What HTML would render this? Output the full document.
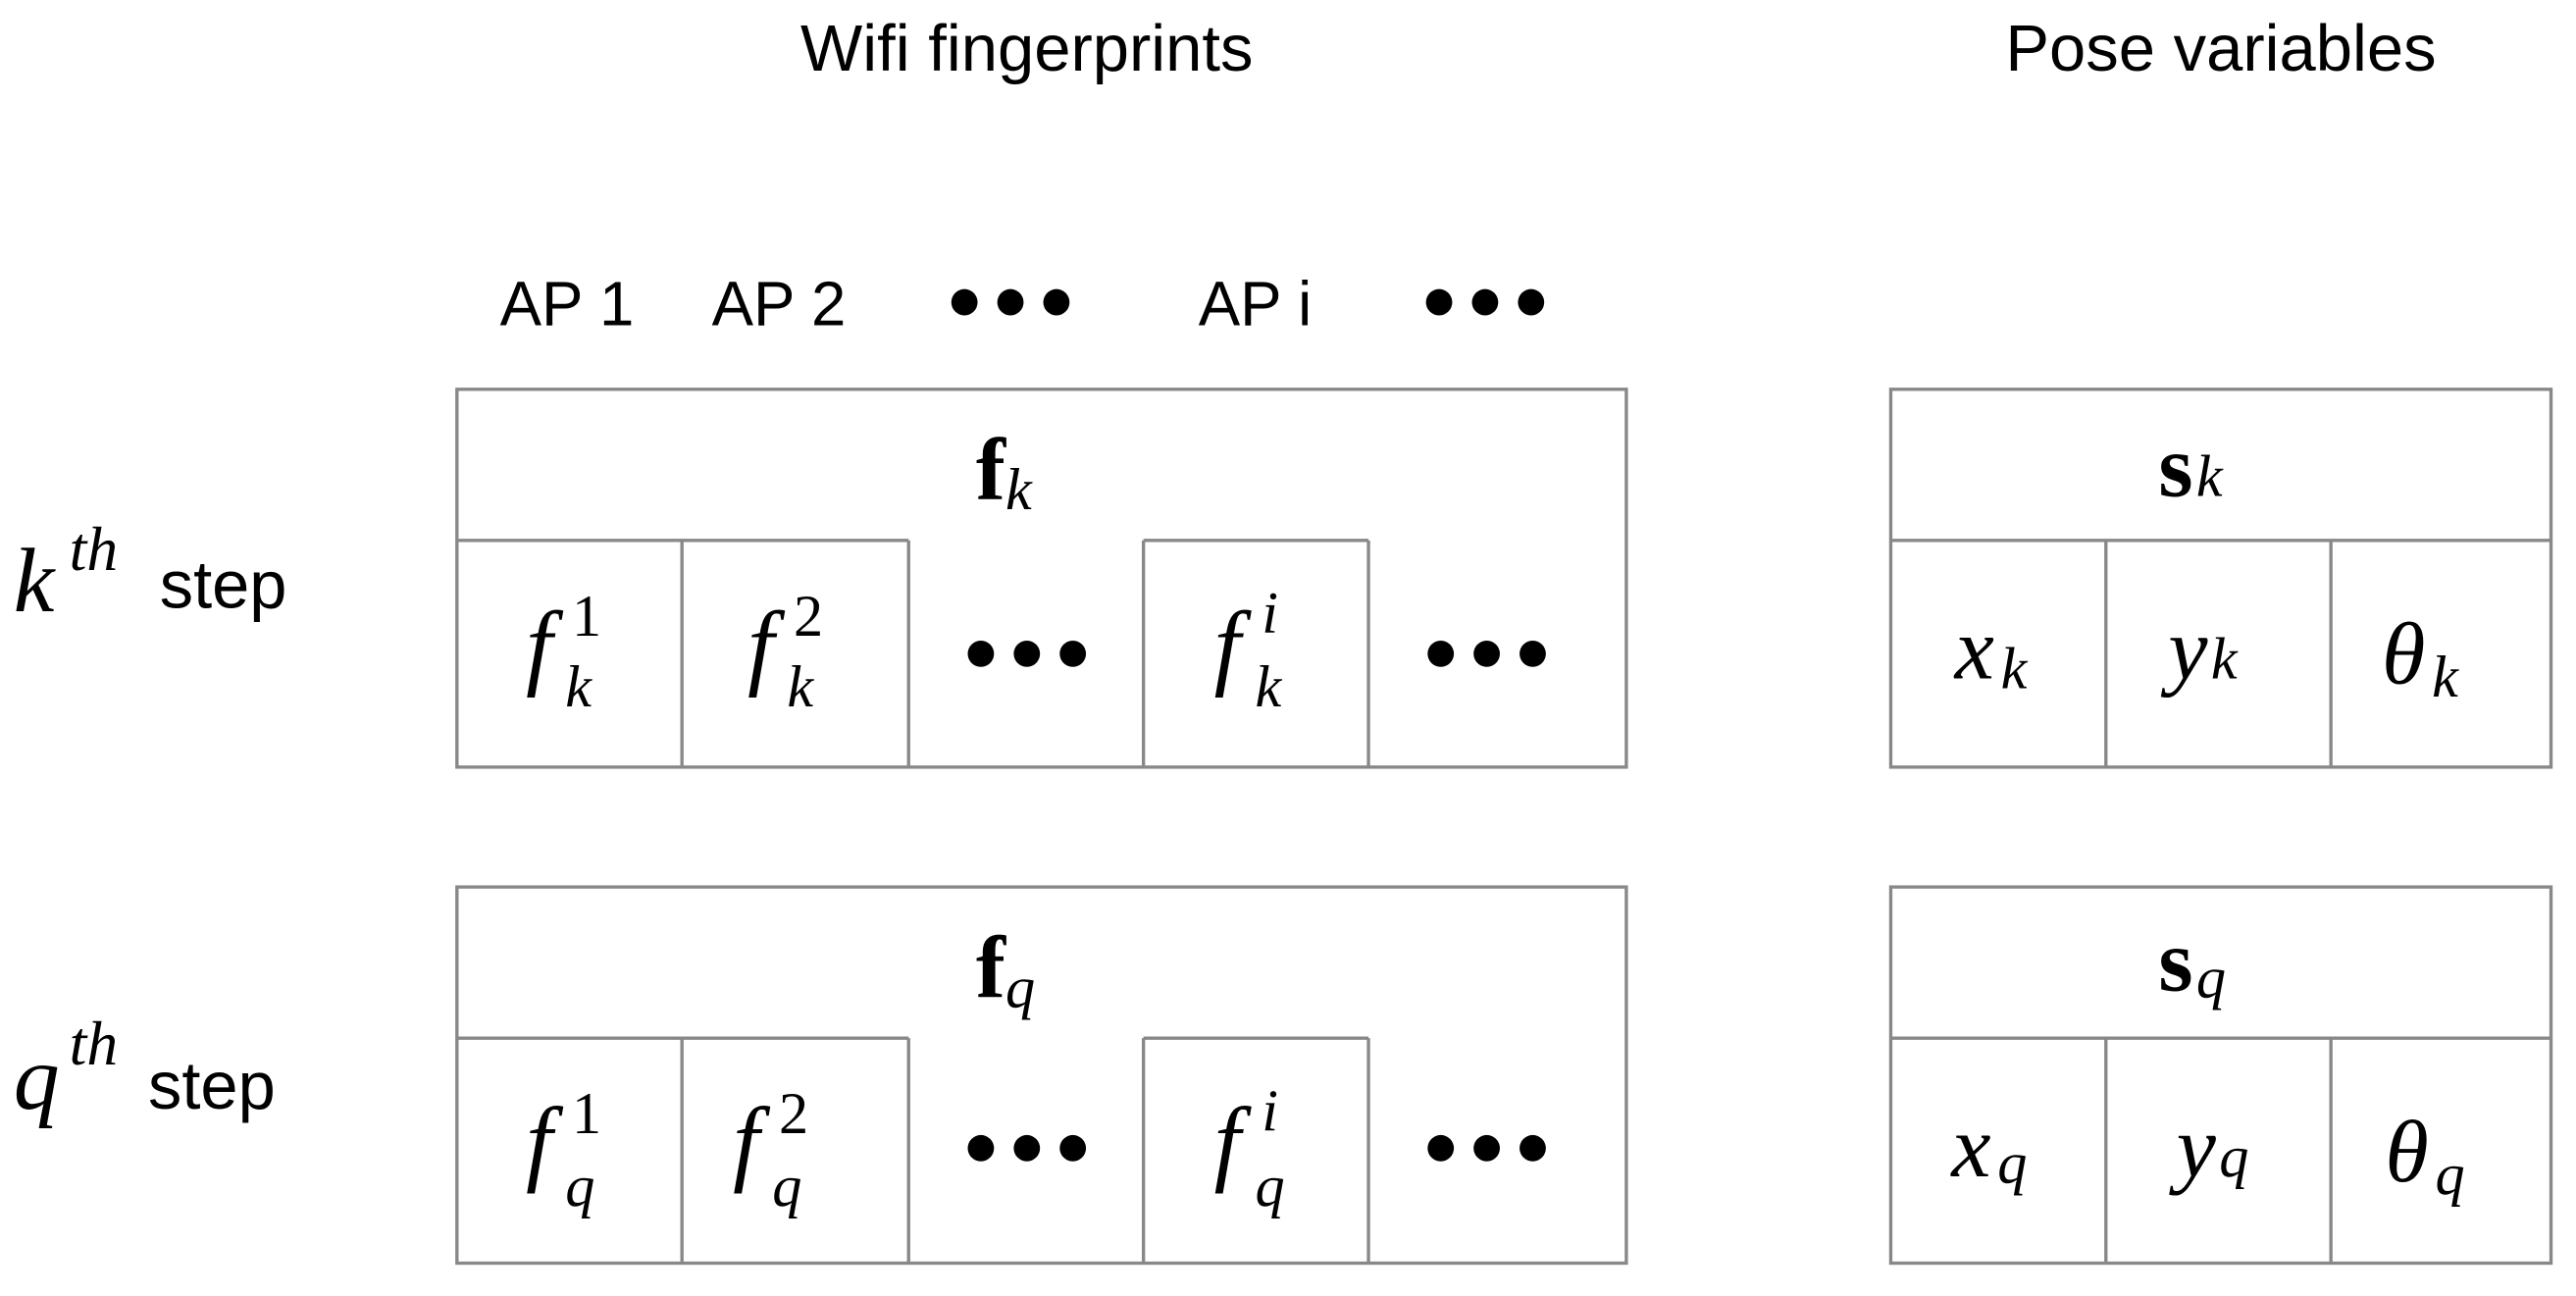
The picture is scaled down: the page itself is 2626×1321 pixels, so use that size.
<!DOCTYPE html>
<html><head><meta charset="utf-8"><style>
html,body{margin:0;padding:0;background:#fff;width:2626px;height:1321px;overflow:hidden}
svg{display:block}
.s{font-family:"Liberation Sans",sans-serif;fill:#000}
.m{font-family:"Liberation Serif",serif;font-style:italic;fill:#000}
.r{font-family:"Liberation Serif",serif;fill:#000}
.b{font-family:"Liberation Serif",serif;font-weight:bold;fill:#000}
</style></head><body>
<svg width="2626" height="1321" viewBox="0 0 1568 789" xmlns="http://www.w3.org/2000/svg">
<g stroke="#888" stroke-width="2" fill="none">
<rect x="278" y="237" width="712" height="230"/>
<polyline points="278,329 553,329"/><polyline points="696,329 833,329"/>
<line x1="415" y1="329" x2="415" y2="467"/><line x1="553" y1="329" x2="553" y2="467"/>
<line x1="696" y1="329" x2="696" y2="467"/><line x1="833" y1="329" x2="833" y2="467"/>
<rect x="278" y="540" width="712" height="229"/>
<polyline points="278,632 553,632"/><polyline points="696,632 833,632"/>
<line x1="415" y1="632" x2="415" y2="769"/><line x1="553" y1="632" x2="553" y2="769"/>
<line x1="696" y1="632" x2="696" y2="769"/><line x1="833" y1="632" x2="833" y2="769"/>
<rect x="1151" y="237" width="402" height="230"/>
<line x1="1151" y1="329" x2="1553" y2="329"/>
<line x1="1282" y1="329" x2="1282" y2="467"/><line x1="1419" y1="329" x2="1419" y2="467"/>
<rect x="1151" y="540" width="402" height="229"/>
<line x1="1151" y1="632" x2="1553" y2="632"/>
<line x1="1282" y1="632" x2="1282" y2="769"/><line x1="1419" y1="632" x2="1419" y2="769"/>
</g>
<text class="s" x="625" y="43" font-size="40" text-anchor="middle">Wifi fingerprints</text>
<text class="s" x="1352" y="43" font-size="40" text-anchor="middle">Pose variables</text>
<text class="s" x="345" y="198" font-size="38" text-anchor="middle">AP 1</text>
<text class="s" x="474" y="198" font-size="38" text-anchor="middle">AP 2</text>
<text class="s" x="764" y="198" font-size="38" text-anchor="middle">AP i</text>
<g fill="#000">
<circle cx="587" cy="184" r="8"/><circle cx="615" cy="184" r="8"/><circle cx="643" cy="184" r="8"/>
<circle cx="876" cy="184" r="8"/><circle cx="904" cy="184" r="8"/><circle cx="932" cy="184" r="8"/>
<circle cx="597" cy="398" r="8"/><circle cx="625" cy="398" r="8"/><circle cx="653" cy="398" r="8"/>
<circle cx="877" cy="398" r="8"/><circle cx="905" cy="398" r="8"/><circle cx="933" cy="398" r="8"/>
<circle cx="597" cy="699" r="8"/><circle cx="625" cy="699" r="8"/><circle cx="653" cy="699" r="8"/>
<circle cx="877" cy="699" r="8"/><circle cx="905" cy="699" r="8"/><circle cx="933" cy="699" r="8"/>
</g>
<text class="m" x="8" y="372" font-size="56">k</text><text class="m" x="42" y="347" font-size="38">th</text><text class="s" x="97" y="370" font-size="41">step</text>
<text class="m" x="8" y="675" font-size="56">q</text><text class="m" x="42" y="648" font-size="38">th</text><text class="s" x="90" y="675" font-size="41">step</text>
<text x="594" y="304"><tspan class="b" font-size="54">f</tspan><tspan class="m" font-size="36" dy="6">k</tspan></text>
<text x="594" y="607"><tspan class="b" font-size="54">f</tspan><tspan class="m" font-size="36" dy="6">q</tspan></text>
<text x="1314" y="302"><tspan class="b" font-size="54">s</tspan><tspan class="m" font-size="36" dx="2">k</tspan></text>
<text x="1314" y="603"><tspan class="b" font-size="54">s</tspan><tspan class="m" font-size="36" dx="2" dy="4">q</tspan></text>
<g class="m">
<text x="320" y="412" font-size="58">f</text><text class="r" x="348" y="387" font-size="36" font-style="normal">1</text><text x="344" y="430" font-size="36">k</text>
<text x="455" y="412" font-size="58">f</text><text class="r" x="483" y="387" font-size="36" font-style="normal">2</text><text x="479" y="430" font-size="36">k</text>
<text x="739" y="412" font-size="58">f</text><text x="768" y="385" font-size="36">i</text><text x="764" y="430" font-size="36">k</text>
<text x="320" y="714" font-size="58">f</text><text class="r" x="348" y="690" font-size="36" font-style="normal">1</text><text x="344" y="734" font-size="36">q</text>
<text x="446" y="714" font-size="58">f</text><text class="r" x="474" y="690" font-size="36" font-style="normal">2</text><text x="470" y="734" font-size="36">q</text>
<text x="739" y="714" font-size="58">f</text><text x="768" y="688" font-size="36">i</text><text x="764" y="734" font-size="36">q</text>
</g>
<text x="1190" y="413"><tspan class="m" font-size="54">x</tspan><tspan class="m" font-size="36" dy="6" dx="4">k</tspan></text>
<text x="1320" y="413"><tspan class="m" font-size="54">y</tspan><tspan class="m" font-size="36" dx="2">k</tspan></text>
<text x="1450" y="416"><tspan class="m" font-size="54">θ</tspan><tspan class="m" font-size="36" dy="8" dx="4">k</tspan></text>
<text x="1188" y="716"><tspan class="m" font-size="54">x</tspan><tspan class="m" font-size="36" dy="4" dx="4">q</tspan></text>
<text x="1325" y="716"><tspan class="m" font-size="54">y</tspan><tspan class="m" font-size="36" dx="2">q</tspan></text>
<text x="1452" y="719"><tspan class="m" font-size="54">θ</tspan><tspan class="m" font-size="36" dy="8" dx="4">q</tspan></text>
</svg>
</body></html>
